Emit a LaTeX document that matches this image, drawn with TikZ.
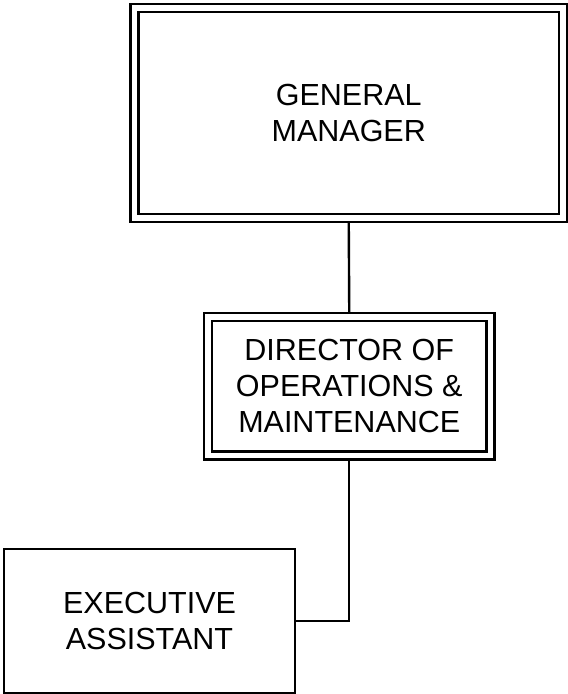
\documentclass[tikz,border=0pt]{standalone}
\usepackage{fontspec}
\setmainfont{Liberation Sans}
\usepackage{tikz}
\usetikzlibrary{
    positioning,
    calc
}
\tikzset{
  post/.style    = {draw, double, line width=2.6pt, double distance=5.4pt,
                    inner sep=0pt, outer sep=5pt, align=center,
                    font=\fontsize{30.5}{36}\selectfont},
  plain/.style   = {draw, line width=2.4pt, inner sep=0pt, outer sep=1.2pt,
                    align=center, font=\fontsize{30.5}{36}\selectfont},
  link/.style    = {line width=2.4pt}
}

\begin{document}
\begin{tikzpicture}[x=1pt, y=-1pt]
    \useasboundingbox (0,0) rectangle (568,694);

    \node[post, minimum width=428.5pt, minimum height=210pt] (gm)
        at (348.75,113) {GENERAL\\MANAGER};
    \node[post, minimum width=282.5pt, minimum height=138.5pt] (dir)
        at (349.25,386.25) {DIRECTOR OF\\OPERATIONS \&\\MAINTENANCE};
    \node[plain, minimum width=291pt, minimum height=144pt] (ea)
        at (149.5,621) {EXECUTIVE\\ASSISTANT};

    \draw[link] (gm.south) -- (dir.north);
    \draw[link] (dir.south) |- (ea.east);
\end{tikzpicture}
\end{document}
